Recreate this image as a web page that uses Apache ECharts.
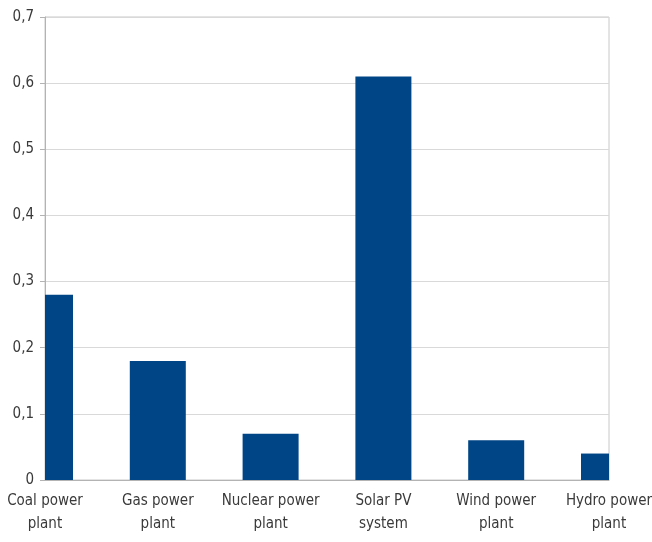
<!DOCTYPE html>
<html><head><meta charset="utf-8">
<script src="https://cdn.jsdelivr.net/npm/echarts@6/dist/echarts.min.js"></script>
<style>html,body{margin:0;padding:0;background:#fff}#c{width:652px;height:542px}</style>
</head><body><div id="c"></div>
<script>
const categories = ["Coal power\nplant","Gas power\nplant","Nuclear power\nplant","Solar PV\nsystem","Wind power\nplant","Hydro power\nplant"];
const values = [0.28, 0.18, 0.07, 0.61, 0.06, 0.04];
const yTicks = [0, 0.1, 0.2, 0.3, 0.4, 0.5, 0.6, 0.7];
const fontFam = "'DejaVu Sans Condensed','Liberation Sans Narrow','Liberation Sans',sans-serif";
const BAR_W = 56;
const chart = echarts.init(document.getElementById('c'), null, {renderer:'canvas'});
chart.setOption({
  animation:false,
  grid:{left:45,right:43,top:17,bottom:62,containLabel:false,outerBoundsMode:'none',
    show:true,borderColor:'#c8c8c8',borderWidth:1},
  xAxis:{type:'category',data:categories,boundaryGap:false,
    axisLine:{lineStyle:{color:'#b3b3b3'}},axisTick:{show:false},
    axisLabel:{color:'#3a3a3a',fontFamily:fontFam,fontSize:15,lineHeight:23,margin:10,interval:0}},
  yAxis:{type:'value',min:0,max:0.7,interval:0.1,
    axisLine:{show:true,lineStyle:{color:'#b3b3b3'}},
    axisTick:{show:true,length:5,lineStyle:{color:'#b3b3b3'}},
    splitLine:{lineStyle:{color:'#d9d9d9'}},
    axisLabel:{color:'#3a3a3a',fontFamily:fontFam,fontSize:15,margin:11,
      formatter:v=>{const t=yTicks.find(x=>Math.abs(x-v)<1e-9);return (t===undefined?v:t).toString().replace('.',',');}}},
  series:[{type:'custom',data:values.map((v,i)=>[i,v]),encode:{x:0,y:1},
    renderItem:(params,api)=>{
      const top = api.coord([api.value(0), api.value(1)]);
      const base = api.coord([api.value(0), 0]);
      const cs = params.coordSys;
      const shape = echarts.graphic.clipRectByRect(
        {x:top[0]-BAR_W/2, y:top[1], width:BAR_W, height:base[1]-top[1]},
        {x:cs.x, y:cs.y, width:cs.width, height:cs.height});
      return shape && {type:'rect', shape, style:{fill:'#004586'}};
    }}]
});
</script></body></html>
